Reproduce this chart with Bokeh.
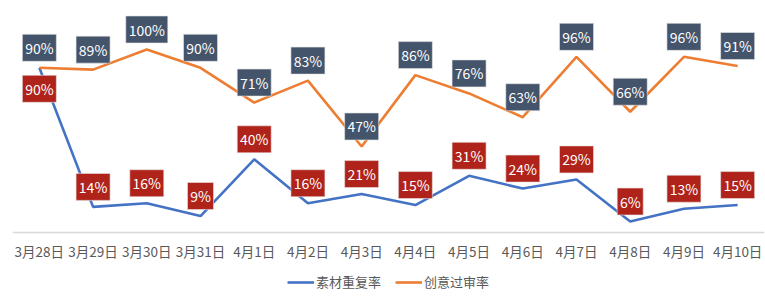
from bokeh.plotting import figure
from bokeh.models import Range1d, Legend, LegendItem, ColumnDataSource, FactorRange
from bokeh.core.properties import value
from bokeh.embed import file_html
from bokeh.resources import INLINE

categories = ["3月28日", "3月29日", "3月30日", "3月31日", "4月1日", "4月2日", "4月3日",
              "4月4日", "4月5日", "4月6日", "4月7日", "4月8日", "4月9日", "4月10日"]
repeat_rate = [90, 14, 16, 9, 40, 16, 21, 15, 31, 24, 29, 6, 13, 15]      # 素材重复率
approve_rate = [90, 89, 100, 90, 71, 83, 47, 86, 76, 63, 96, 66, 96, 91]  # 创意过审率
series_names = ["素材重复率", "创意过审率"]

FONT = "Noto Sans CJK SC"
FRAME_W, FRAME_H = 752, 290
PX_PER_UNIT = 1.83
Y_MAX = (232 - 10) / PX_PER_UNIT
Y_MIN = -(FRAME_H - (232 - 10)) / PX_PER_UNIT
px = 1 / PX_PER_UNIT  # data units per pixel

p = figure(x_range=FactorRange(*categories), y_range=Range1d(Y_MIN, Y_MAX),
           frame_width=FRAME_W, frame_height=FRAME_H,
           min_border_left=12, min_border_right=1, min_border_top=10, min_border_bottom=0,
           output_backend="svg", toolbar_location=None, outline_line_color=None)
p.x_range.range_padding = 0
p.grid.visible = False
p.yaxis.visible = False
ax = p.xaxis[0]
ax.fixed_location = 0
ax.axis_line_color = "#D9D9D9"
ax.axis_line_width = 1.5
ax.major_tick_line_color = None
ax.minor_tick_line_color = None
ax.major_tick_out = 0
ax.major_tick_in = 0
ax.major_label_text_font = FONT
ax.major_label_text_font_size = "13.5px"
ax.major_label_text_color = "#595959"
ax.major_label_standoff = 8

BLUE, ORANGE = "#4472C4", "#ED7D31"
r_blue = p.line(categories, repeat_rate, line_color=BLUE, line_width=2.6)
r_orange = p.line(categories, approve_rate, line_color=ORANGE, line_width=2.6)


def label_layer(vals, ys, fill):
    txt = [f"{v}%" for v in vals]
    widths = [8 * len(t) + 10 for t in txt]
    src = ColumnDataSource(dict(x=categories, y=ys, t=txt, w=widths))
    p.rect(x="x", y="y", width="w", height=27, width_units="screen", height_units="screen",
           source=src, fill_color=fill, line_color="#E6E6E6", line_width=0.6)
    p.text(x="x", y="y", text="t", source=src, text_color="white", text_align="center",
           text_baseline="middle", text_font=value(FONT), text_font_size="14px")


up = 20 * px
orange_y = [v + up for v in approve_rate]
blue_y = [b - 21 * px if abs(b - o) < 8 else b + up for b, o in zip(repeat_rate, approve_rate)]
label_layer(approve_rate, orange_y, "#44546A")
label_layer(repeat_rate, blue_y, "#B0231A")

legend = Legend(items=[LegendItem(label=series_names[0], renderers=[r_blue]),
                       LegendItem(label=series_names[1], renderers=[r_orange])],
                orientation="horizontal", location=(275, 9),
                label_text_font=FONT, label_text_font_size="13px", label_text_color="#595959",
                glyph_width=27, glyph_height=14, label_height=14, spacing=14, label_standoff=2,
                border_line_color=None, background_fill_alpha=0, padding=0, margin=0)
p.add_layout(legend)

open("out.html", "w").write(file_html(p, INLINE))
